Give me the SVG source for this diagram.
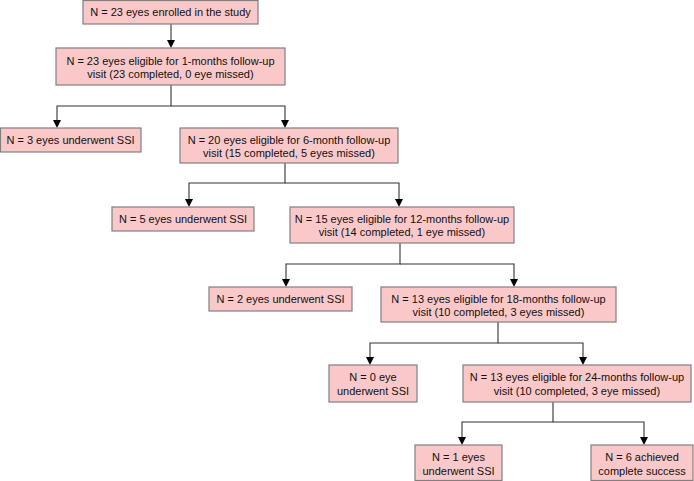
<svg xmlns="http://www.w3.org/2000/svg" width="694" height="481" viewBox="0 0 694 481">
<defs>
<style>
.box{fill:#fac8c8;stroke:#808080;stroke-width:1.2}
text{font-family:"Liberation Sans",Arial,sans-serif;font-size:11px;fill:#111;text-anchor:middle}
.c{fill:none;stroke:#333;stroke-width:1.1}
.ah{fill:#000}
</style>
</defs>
<rect width="694" height="481" fill="#fff"/>
<g id="connectors">
<path class="c" d="M171,24 V42"/>
<path class="c" d="M171,85 V106 H57 V122"/>
<path class="c" d="M171,106 H285 V122"/>
<path class="c" d="M285,163 V183 H189 V201"/>
<path class="c" d="M285,183 H399 V201"/>
<path class="c" d="M400,243 V264 H286 V281"/>
<path class="c" d="M400,264 H514 V281"/>
<path class="c" d="M498,322 V343 H370 V359"/>
<path class="c" d="M498,343 H583 V359"/>
<path class="c" d="M553,402 V422 H462 V439"/>
<path class="c" d="M553,422 H644 V439"/>
<path class="ah" d="M167,40 H175 L171,48 Z"/>
<path class="ah" d="M53,120 H61 L57,128 Z"/>
<path class="ah" d="M281,120 H289 L285,128 Z"/>
<path class="ah" d="M185,199 H193 L189,207 Z"/>
<path class="ah" d="M395,199 H403 L399,207 Z"/>
<path class="ah" d="M282,279 H290 L286,287 Z"/>
<path class="ah" d="M510,279 H518 L514,287 Z"/>
<path class="ah" d="M366,357 H374 L370,365 Z"/>
<path class="ah" d="M579,357 H587 L583,365 Z"/>
<path class="ah" d="M458,437 H466 L462,445 Z"/>
<path class="ah" d="M640,437 H648 L644,445 Z"/>
</g>
<g id="n1"><rect class="box" x="83" y="0.5" width="175" height="23.5"/><text x="170.5" y="16">N = 23 eyes enrolled in the study</text></g>
<g id="n2"><rect class="box" x="56" y="48" width="229" height="37"/><text x="170.5" y="65">N = 23 eyes eligible for 1-months follow-up</text><text x="170.5" y="78">visit (23 completed, 0 eye missed)</text></g>
<g id="n3"><rect class="box" x="0.5" y="128" width="140.5" height="24"/><text x="70.5" y="144">N = 3 eyes underwent SSI</text></g>
<g id="n4"><rect class="box" x="180" y="128" width="218" height="35"/><text x="289" y="144">N = 20 eyes eligible for 6-month follow-up</text><text x="289" y="157">visit (15 completed, 5 eyes missed)</text></g>
<g id="n5"><rect class="box" x="112" y="207" width="142" height="24"/><text x="183" y="223">N = 5 eyes underwent SSI</text></g>
<g id="n6"><rect class="box" x="290" y="207" width="224" height="36"/><text x="402" y="223">N = 15 eyes eligible for 12-months follow-up</text><text x="402" y="236">visit (14 completed, 1 eye missed)</text></g>
<g id="n7"><rect class="box" x="209" y="287" width="143" height="24"/><text x="280.5" y="303">N = 2 eyes underwent SSI</text></g>
<g id="n8"><rect class="box" x="381" y="287" width="235" height="35"/><text x="498.5" y="303">N = 13 eyes eligible for 18-months follow-up</text><text x="498.5" y="316">visit (10 completed, 3 eyes missed)</text></g>
<g id="n9"><rect class="box" x="329" y="365" width="88" height="37"/><text x="373" y="381">N = 0 eye</text><text x="373" y="395">underwent SSI</text></g>
<g id="n10"><rect class="box" x="463" y="365" width="228" height="37"/><text x="577" y="381">N = 13 eyes eligible for 24-months follow-up</text><text x="577" y="395">visit (10 completed, 3 eye missed)</text></g>
<g id="n11"><rect class="box" x="415" y="445" width="87" height="35.5"/><text x="458.5" y="461">N = 1 eyes</text><text x="458.5" y="475">underwent SSI</text></g>
<g id="n12"><rect class="box" x="591" y="445" width="102" height="35.5"/><text x="642" y="461">N = 6 achieved</text><text x="642" y="475">complete success</text></g>
</svg>
